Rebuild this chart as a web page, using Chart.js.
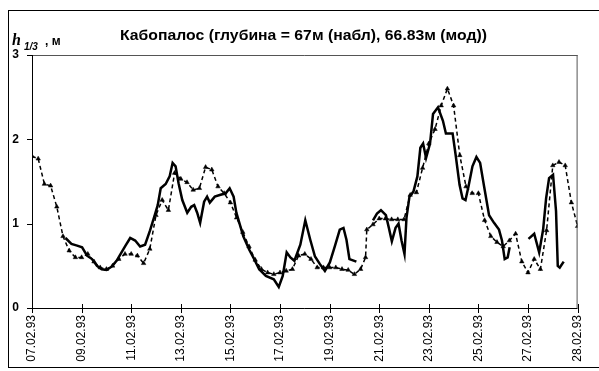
<!DOCTYPE html>
<html>
<head>
<meta charset="utf-8">
<script src="https://cdn.jsdelivr.net/npm/chart.js@4.4.0/dist/chart.umd.min.js"></script>
<style>
  html, body { margin: 0; padding: 0; background: #fff; }
</style>
</head>
<body>
<canvas id="chartCanvas" width="599" height="371"></canvas>
<script>
// Кабопалос, 07.02.93 - 28.02.93, h1/3 (м); время в сутках от 07.02.93
const tickDays = [0, 2, 4, 6, 8, 10, 12, 14, 16, 18, 20, 22];
const tickLabels = ['07.02.93', '09.02.93', '11.02.93', '13.02.93', '15.02.93', '17.02.93',
                    '19.02.93', '21.02.93', '23.02.93', '25.02.93', '27.02.93', '28.02.93'];

// наблюдения (null = пропуск в записи)
const obsDay = [1.35, 1.59, 1.82, 2.02, 2.22, 2.42, 2.62, 2.81, 3.01, 3.21, 3.41, 3.61, 3.77, 3.96,
  4.16, 4.36, 4.56, 4.76, 4.95, 5.07, 5.19, 5.39, 5.55, 5.67, 5.79, 5.91, 6.06, 6.26, 6.42, 6.54,
  6.66, 6.78, 6.94, 7.06, 7.17, 7.37, 7.57, 7.81, 7.97, 8.13, 8.24, 8.52, 8.76, 8.96, 9.16, 9.43,
  9.75, 9.95, 10.11, 10.27, 10.42, 10.58, 10.82, 11.02, 11.22, 11.41, 11.61, 11.81, 12.01, 12.21,
  12.41, 12.56, 12.68, 12.80, 13.08,
  13.4,
  13.75, 13.91, 14.07, 14.27, 14.39, 14.51, 14.66, 14.78, 14.90, 15.02, 15.10, 15.22, 15.38, 15.54,
  15.66, 15.77, 15.89, 16.05, 16.17, 16.37, 16.57, 16.69, 16.96, 17.08, 17.24, 17.36, 17.48, 17.60,
  17.76, 17.92, 18.07, 18.23, 18.43, 18.63, 18.83, 18.95, 19.06, 19.18, 19.26,
  19.6,
  20.02, 20.25, 20.45, 20.61, 20.73, 20.85, 21.01, 21.13, 21.20, 21.28, 21.44];
const obsH = [0.83, 0.76, 0.74, 0.72, 0.62, 0.58, 0.50, 0.46, 0.45, 0.49, 0.56, 0.66, 0.74, 0.83,
  0.80, 0.73, 0.75, 0.92, 1.10, 1.22, 1.42, 1.47, 1.56, 1.72, 1.68, 1.48, 1.28, 1.13, 1.20, 1.22,
  1.13, 1.01, 1.26, 1.32, 1.25, 1.32, 1.34, 1.36, 1.42, 1.32, 1.13, 0.85, 0.69, 0.58, 0.46, 0.38,
  0.34, 0.25, 0.38, 0.66, 0.60, 0.56, 0.75, 1.04, 0.81, 0.61, 0.52, 0.44, 0.54, 0.73,
  0.93, 0.95, 0.81, 0.58, 0.55,
  null,
  1.04, 1.12, 1.16, 1.10, 0.95, 0.79, 0.95, 1.00, 0.80, 0.64, 1.07, 1.32, 1.38, 1.56,
  1.90, 1.95, 1.78, 1.95, 2.30, 2.38, 2.22, 2.07, 2.07, 1.82, 1.46, 1.30, 1.28, 1.44,
  1.68, 1.79, 1.72, 1.44, 1.10, 1.01, 0.93, 0.80, 0.58, 0.60, 0.72,
  null,
  0.82, 0.88, 0.66, 0.93, 1.30, 1.54, 1.58, 1.15, 0.50, 0.48, 0.55];

// модель
const modDay = [0, 0.25, 0.5, 0.75, 1, 1.25, 1.5, 1.75, 2, 2.25, 2.5, 2.75, 3, 3.25, 3.5, 3.75,
  4, 4.25, 4.5, 4.75, 5, 5.25, 5.5, 5.75, 6, 6.25, 6.5, 6.75, 7, 7.25, 7.5, 7.75, 8, 8.25, 8.5,
  8.75, 9, 9.25, 9.5, 9.75, 10, 10.25, 10.5, 10.75, 11, 11.25, 11.5, 11.75, 12, 12.25, 12.5,
  12.75, 13, 13.25, 13.45, 13.5, 13.75, 14, 14.25, 14.5, 14.75, 15, 15.25, 15.5, 15.75, 16,
  16.25, 16.5, 16.75, 17, 17.25, 17.5, 17.75, 18, 18.25, 18.5, 18.75, 19, 19.25, 19.5, 19.75,
  20, 20.25, 20.5, 20.75, 21, 21.25, 21.5, 21.75, 22];
const modH = [1.80, 1.77, 1.47, 1.45, 1.20, 0.85, 0.68, 0.60, 0.60, 0.64, 0.55, 0.48, 0.46, 0.50,
  0.58, 0.64, 0.64, 0.62, 0.53, 0.70, 1.10, 1.28, 1.16, 1.60, 1.53, 1.49, 1.40, 1.42, 1.67, 1.64,
  1.44, 1.36, 1.25, 1.07, 0.90, 0.73, 0.57, 0.46, 0.42, 0.40, 0.42, 0.44, 0.46, 0.62, 0.64, 0.58,
  0.48, 0.48, 0.48, 0.48, 0.46, 0.45, 0.40, 0.46, 0.60, 0.93, 0.99, 1.06, 1.06, 1.05, 1.05, 1.05,
  1.34, 1.37, 1.66, 1.95, 2.12, 2.40, 2.60, 2.40, 1.81, 1.44, 1.36, 1.36, 1.04, 0.85, 0.78, 0.73,
  0.80, 0.88, 0.55, 0.42, 0.58, 0.46, 0.92, 1.69, 1.73, 1.69, 1.25, 0.97];

const yTicks = [0, 1, 2, 3];
const title = 'Кабопалос (глубина = 67м (набл), 66.83м (мод))';

const toPoints = (xs, ys) => xs.map((d, i) => ({ x: d, y: ys[i] }));

// рамка, оси с засечками, заголовок и подпись оси Y
const decor = {
  id: 'decor',
  beforeDraw(chart) {
    const c = chart.ctx;
    c.save();
    c.fillStyle = '#fff';
    c.fillRect(0, 0, chart.width, chart.height);
    c.restore();
  },
  afterDraw(chart) {
    const c = chart.ctx, a = chart.chartArea;
    const xs = chart.scales.x, ys = chart.scales.y;
    c.save();
    c.lineWidth = 1;
    c.strokeStyle = '#000';
    c.strokeRect(8.5, 10.5, 640, 357);

    c.strokeStyle = '#555';
    c.beginPath();
    c.moveTo(a.left, a.top + 0.5); c.lineTo(a.right, a.top + 0.5);
    c.moveTo(a.right - 0.5, a.top); c.lineTo(a.right - 0.5, a.bottom);
    c.stroke();

    c.strokeStyle = '#000';
    c.beginPath();
    c.moveTo(a.left + 0.5, a.top); c.lineTo(a.left + 0.5, a.bottom + 1);
    c.moveTo(a.left, a.bottom + 0.5); c.lineTo(a.right, a.bottom + 0.5);
    ys.ticks.forEach(t => {
      const y = Math.round(ys.getPixelForValue(t.value)) + 0.5;
      c.moveTo(a.left - 5, y); c.lineTo(a.left, y);
    });
    xs.ticks.forEach(t => {
      const x = Math.round(xs.getPixelForValue(t.value)) + 0.5;
      c.moveTo(x, a.bottom - 4); c.lineTo(x, a.bottom + 5);
    });
    c.stroke();

    c.fillStyle = '#000';
    c.textBaseline = 'alphabetic';
    c.font = 'bold 13px "Liberation Sans", Arial, sans-serif';
    const w = c.measureText(title).width;
    c.save();
    c.translate(120, 40);
    c.scale(367 / w, 1.1);
    c.fillText(title, 0, 0);
    c.restore();

    c.font = 'italic bold 16px "Liberation Serif", serif';
    c.fillText('h', 12, 45);
    c.font = 'italic bold 10px "Liberation Sans", Arial, sans-serif';
    c.fillText('1/3', 24, 50);
    c.font = 'bold 12px "Liberation Sans", Arial, sans-serif';
    c.fillText(', м', 45, 45);
    c.restore();
  }
};

new Chart(document.getElementById('chartCanvas'), {
  type: 'line',
  data: {
    datasets: [{
      label: 'набл',
      data: toPoints(obsDay, obsH),
      borderColor: '#000',
      borderWidth: 2.5,
      pointRadius: 0,
      spanGaps: false,
      tension: 0
    }, {
      label: 'мод',
      data: toPoints(modDay, modH),
      borderColor: '#000',
      borderWidth: 1.5,
      borderDash: [4, 3],
      pointStyle: 'triangle',
      pointRadius: 2.6,
      pointBackgroundColor: '#000',
      pointBorderColor: '#000',
      pointBorderWidth: 0.5,
      tension: 0
    }]
  },
  options: {
    responsive: false,
    animation: false,
    layout: { padding: { top: 55, right: 12, left: 0, bottom: 0 } },
    plugins: { legend: { display: false }, tooltip: { enabled: false } },
    scales: {
      x: {
        type: 'linear',
        min: 0,
        max: 22,
        afterBuildTicks: s => { s.ticks = tickDays.map(v => ({ value: v })); },
        afterFit: s => { s.height = 63; },
        grid: { display: false, drawTicks: false },
        border: { display: false },
        ticks: {
          autoSkip: false,
          maxRotation: 90,
          minRotation: 90,
          padding: 7,
          color: '#000',
          font: { family: '"Liberation Sans", Arial, sans-serif', size: 12 },
          callback: v => tickLabels[tickDays.indexOf(v)]
        }
      },
      y: {
        min: 0,
        max: 3,
        afterBuildTicks: s => { s.ticks = yTicks.map(v => ({ value: v })); },
        afterFit: s => { s.width = 32; },
        grid: { display: false, drawTicks: false },
        border: { display: false },
        ticks: {
          padding: 13,
          color: '#000',
          font: { family: '"Liberation Sans", Arial, sans-serif', size: 12, weight: 'bold' }
        }
      }
    }
  },
  plugins: [decor]
});
</script>
</body>
</html>
